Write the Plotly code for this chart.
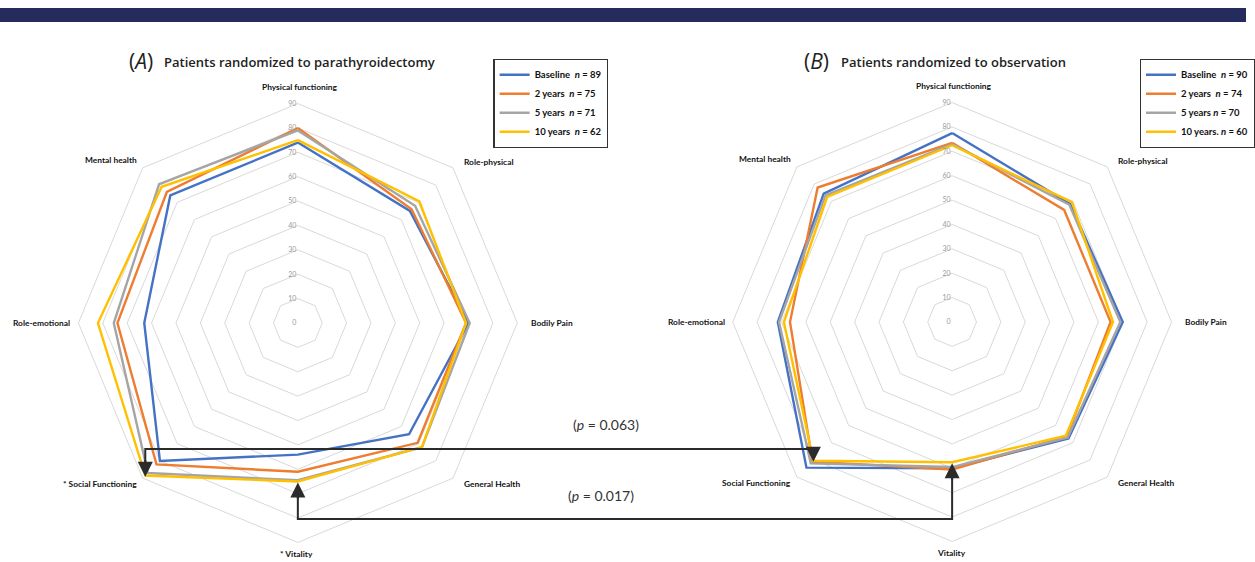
import math
import plotly.graph_objects as go

# SF-36 domains, clockwise from the top
domains_a = ["Physical functioning", "Role-physical", "Bodily Pain", "General Health",
             "* Vitality", "* Social Functioning", "Role-emotional", "Mental health"]
domains_b = ["Physical functioning", "Role-physical", "Bodily Pain", "General Health",
             "Vitality", "Social Functioning", "Role-emotional", "Mental health"]

# Panel A: parathyroidectomy
surg_baseline = [74, 65, 70, 64.5, 54, 80, 63, 74]
surg_2y = [80, 66, 69, 69.5, 61, 82, 74, 76]
surg_5y = [79, 68, 70.5, 72, 64.5, 87, 75.5, 80.5]
surg_10y = [75, 70.5, 69, 72, 65, 88.5, 82, 79]

# Panel B: observation
obs_baseline = [77.5, 68.5, 70, 67.5, 60, 84.5, 71.5, 74.5]
obs_2y = [73.5, 65, 65, 66.5, 60.5, 81, 66.5, 78]
obs_5y = [73, 68, 69, 67, 59.5, 82, 71, 73.5]
obs_10y = [72.5, 69.5, 66, 66, 57.5, 80.5, 69, 72.5]

legend_a = ["Baseline  <i>n</i> = 89", "2 years  <i>n</i> = 75",
            "5 years  <i>n</i> = 71", "10 years  <i>n</i> = 62"]
legend_b = ["Baseline  <i>n</i> = 90", "2 years  <i>n</i> = 74",
            "5 years <i>n</i> = 70", "10 years. <i>n</i> = 60"]

p_social = "0.063"
p_vitality = "0.017"

radial_ticks = list(range(0, 100, 10))
r_max = 90

colors = ["#4472C4", "#ED7D31", "#A5A5A5", "#FFC000"]

W, H = 1255, 562
# polar centres and outer radius in pixels
CA = (300, 323)
CB = (959, 322)
R = 221

# domain-name label placement: pixel offset from the polar centre and anchor side
label_pos = [((2, -236), "center"), ((165, -161), "left"), ((233, 0), "left"),
             ((165, 161), "left"), ((-1, 231), "center"), ((-160, 161), "right"),
             ((-227, 0), "right"), ((-160, -163), "right")]

FONT = "Lato"


def closed(vals):
    return list(vals) + [vals[0]]


fig = go.Figure()

for name, vals, col in zip(legend_a, [surg_baseline, surg_2y, surg_5y, surg_10y], colors):
    fig.add_trace(go.Scatterpolar(
        r=closed(vals), theta=closed(domains_a), mode="lines", name=name,
        line=dict(color=col, width=2.4), subplot="polar", legend="legend",
        hoverinfo="skip"))

for name, vals, col in zip(legend_b, [obs_baseline, obs_2y, obs_5y, obs_10y], colors):
    fig.add_trace(go.Scatterpolar(
        r=closed(vals), theta=closed(domains_b), mode="lines", name=name,
        line=dict(color=col, width=2.4), subplot="polar2", legend="legend2",
        hoverinfo="skip"))


def domain(c):
    cx, cy = c
    return dict(x=[(cx - R) / W, (cx + R) / W],
                y=[1 - (cy + R) / H, 1 - (cy - R) / H])


def polar_layout(c, cats):
    return dict(
        domain=domain(c),
        gridshape="linear",
        bgcolor="white",
        radialaxis=dict(range=[0, r_max], tickvals=radial_ticks, angle=90,
                        side="counterclockwise", tickangle=90, ticks="",
                        showline=False, gridcolor="#d9d9d9", gridwidth=1,
                        tickfont=dict(family=FONT, size=7, color="#9a9a9a")),
        angularaxis=dict(direction="clockwise", rotation=90, categoryorder="array",
                         categoryarray=cats, showgrid=False, ticks="",
                         showticklabels=False,
                         showline=True, linecolor="#d9d9d9", linewidth=1),
    )


fig.update_layout(polar=polar_layout(CA, domains_a), polar2=polar_layout(CB, domains_b))


def to_paper(px, py):
    return px / W, 1 - py / H


def vertex(c, value, k):
    # pixel position of a value on the k-th spoke (clockwise from top)
    ang = math.radians(90 - 45 * k)
    rr = value / r_max * R
    return c[0] + rr * math.cos(ang), c[1] - rr * math.sin(ang)


shapes = []
annotations = []

# domain names around each web
for c, cats in [(CA, domains_a), (CB, domains_b)]:
    for cat, ((dx, dy), anchor) in zip(cats, label_pos):
        px, py = to_paper(c[0] + dx, c[1] + dy)
        annotations.append(dict(x=px, y=py, xref="paper", yref="paper", text=cat,
                                xanchor=anchor, yanchor="middle", showarrow=False,
                                font=dict(family=FONT, size=8.4, color="#111111",
                                          weight="bold")))

# top banner
shapes.append(dict(type="rect", xref="paper", yref="paper", x0=0, x1=1,
                   y0=1 - 22 / H, y1=1 - 8 / H, fillcolor="#262b5e", line=dict(width=0)))

# connectors between panels: social functioning (spoke 5) and vitality (spoke 4)
sa = vertex(CA, surg_10y[5], 5)
sb = vertex(CB, obs_10y[5], 5)
va = vertex(CA, surg_10y[4], 4)
vb = vertex(CB, obs_10y[4], 4)
top_y = 449
bot_y = 519


def path(pts):
    parts = []
    for i, (x, y) in enumerate(pts):
        px, py = to_paper(x, y)
        parts.append(("M" if i == 0 else "L") + f"{px:.5f},{py:.5f}")
    return " ".join(parts)


line_style = dict(color="#2b2b2b", width=2)
shapes.append(dict(type="path", xref="paper", yref="paper",
                   path=path([(sa[0], sa[1] - 10), (sa[0], top_y), (sb[0], top_y), (sb[0], sb[1] - 8)]),
                   line=line_style))
shapes.append(dict(type="path", xref="paper", yref="paper",
                   path=path([(va[0], va[1] + 10), (va[0], bot_y), (vb[0], bot_y), (vb[0], vb[1] + 8)]),
                   line=line_style))

for (x, y), ay in [(sa, -18), (sb, -13), (va, 18), (vb, 18)]:
    px, py = to_paper(x, y)
    annotations.append(dict(x=px, y=py, xref="paper", yref="paper", text="",
                            showarrow=True, ax=0, ay=ay, arrowhead=2, arrowsize=1.5,
                            arrowwidth=2, arrowcolor="#2b2b2b", standoff=0))

annotations.append(dict(x=610 / W, y=1 - 435 / H, xref="paper", yref="paper",
                        text=f"(<i>p</i> = {p_social})", showarrow=False,
                        font=dict(family=FONT, size=14, color="#333333")))
annotations.append(dict(x=605 / W, y=1 - 506 / H, xref="paper", yref="paper",
                        text=f"(<i>p</i> = {p_vitality})", showarrow=False,
                        font=dict(family=FONT, size=14, color="#333333")))

# panel titles
title_font = dict(family="Open Sans", size=13, color="#222222", weight=600)
for x_tag, x_txt, tag, txt in [(128, 163, "A", "Patients randomized to parathyroidectomy"),
                               (808, 845, "B", "Patients randomized to observation")]:
    annotations.append(dict(x=x_tag / W, y=1 - 61 / H, xref="paper", yref="paper",
                            xanchor="left", yanchor="middle", showarrow=False,
                            text=f"(<i>{tag}</i>)",
                            font=dict(family="Open Sans", size=21, color="#222222")))
    annotations.append(dict(x=x_txt / W, y=1 - 62 / H, xref="paper", yref="paper",
                            xanchor="left", yanchor="middle", showarrow=False,
                            text=txt, font=title_font))

legend_style = dict(bgcolor="white", bordercolor="#333333", borderwidth=1.2,
                    font=dict(family=FONT, size=9.5, color="#111111", weight="bold"),
                    xanchor="left", yanchor="top", itemwidth=30, tracegroupgap=0)

fig.update_layout(
    width=W, height=H,
    margin=dict(l=0, r=0, t=0, b=0),
    paper_bgcolor="white",
    showlegend=True,
    legend=dict(x=497 / W, y=1 - 59 / H, **legend_style),
    legend2=dict(x=1148 / W, y=1 - 59 / H, **legend_style),
    shapes=shapes,
    annotations=annotations,
)

fig.write_html("out.html")
